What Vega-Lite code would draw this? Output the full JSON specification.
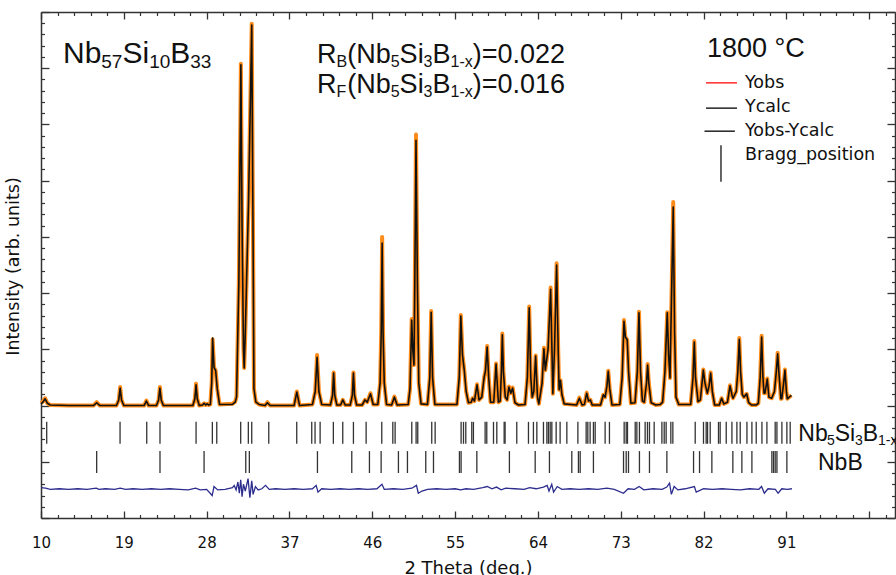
{
"$schema": "https://vega.github.io/schema/vega-lite/v6.json",
"width": 854, "height": 506,
"autosize": {"type": "none"},
"padding": {"left": 41, "top": 12, "right": 1, "bottom": 57},
"background": "white",
"config": {"view": {"stroke": null}},
"datasets": {
"pat": [
{"t":10.0,"c":203,"o":204},{"t":10.2,"c":206,"o":207},{"t":10.45,"c":212,"o":213},{"t":10.7,"c":204,"o":204},{"t":11.0,"c":201,"o":201},{"t":13.0,"c":200,"o":200},{"t":15.7,"c":200,"o":200},{"t":16.05,"c":205,"o":206},{"t":16.4,"c":200,"o":200},
{"t":18.2,"c":200,"o":200},{"t":18.45,"c":210,"o":210},{"t":18.6,"c":231,"o":233},{"t":18.75,"c":210,"o":210},{"t":19.0,"c":200,"o":200},
{"t":21.2,"c":200,"o":200},{"t":21.45,"c":208,"o":209},{"t":21.7,"c":200,"o":200},
{"t":22.55,"c":200,"o":200},{"t":22.78,"c":210,"o":210},{"t":22.92,"c":231,"o":233},{"t":23.06,"c":210,"o":210},{"t":23.3,"c":200,"o":200},
{"t":26.5,"c":200,"o":200},{"t":26.72,"c":212,"o":212},{"t":26.85,"c":237,"o":239},{"t":26.98,"c":212,"o":212},{"t":27.2,"c":200,"o":200},
{"t":27.55,"c":201,"o":201},{"t":27.72,"c":204,"o":204},{"t":27.9,"c":201,"o":201},{"t":28.05,"c":203,"o":203},{"t":28.2,"c":201,"o":201},
{"t":28.4,"c":202,"o":202},{"t":28.55,"c":240,"o":240},{"t":28.65,"c":320,"o":318},{"t":28.8,"c":268,"o":268},{"t":28.98,"c":262,"o":262},{"t":29.15,"c":230,"o":230},{"t":29.4,"c":202,"o":202},
{"t":30.8,"c":202,"o":203},{"t":31.1,"c":206,"o":207},{"t":31.25,"c":215,"o":216},{"t":31.5,"c":420,"o":420},{"t":31.72,"c":806,"o":808},{"t":31.85,"c":520,"o":520},{"t":32.0,"c":300,"o":300},{"t":32.08,"c":267,"o":267},{"t":32.2,"c":330,"o":330},{"t":32.55,"c":560,"o":560},{"t":32.9,"c":877,"o":879},{"t":33.02,"c":560,"o":560},{"t":33.14,"c":230,"o":230},{"t":33.35,"c":206,"o":206},{"t":33.7,"c":202,"o":202},
{"t":34.35,"c":200,"o":200},{"t":34.6,"c":205,"o":206},{"t":34.9,"c":200,"o":200},
{"t":37.5,"c":200,"o":200},{"t":37.8,"c":224,"o":225},{"t":38.1,"c":200,"o":200},
{"t":39.5,"c":202,"o":202},{"t":39.8,"c":225,"o":225},{"t":40.0,"c":286,"o":290},{"t":40.2,"c":225,"o":225},{"t":40.5,"c":202,"o":202},
{"t":41.45,"c":201,"o":201},{"t":41.68,"c":218,"o":218},{"t":41.8,"c":258,"o":259},{"t":41.92,"c":218,"o":218},{"t":42.15,"c":201,"o":201},
{"t":42.55,"c":201,"o":201},{"t":42.8,"c":210,"o":210},{"t":43.05,"c":201,"o":201},
{"t":43.6,"c":201,"o":201},{"t":43.83,"c":218,"o":218},{"t":43.95,"c":258,"o":259},{"t":44.07,"c":218,"o":218},{"t":44.3,"c":201,"o":201},
{"t":44.9,"c":201,"o":201},{"t":45.2,"c":210,"o":210},{"t":45.45,"c":206,"o":206},{"t":45.8,"c":221,"o":222},{"t":46.1,"c":202,"o":202},
{"t":46.6,"c":202,"o":202},{"t":46.85,"c":240,"o":240},{"t":46.97,"c":330,"o":330},{"t":47.07,"c":489,"o":500},{"t":47.17,"c":330,"o":330},{"t":47.3,"c":240,"o":240},{"t":47.55,"c":202,"o":202},
{"t":48.1,"c":201,"o":201},{"t":48.4,"c":215,"o":216},{"t":48.7,"c":201,"o":201},
{"t":49.9,"c":202,"o":202},{"t":50.1,"c":230,"o":230},{"t":50.28,"c":352,"o":354},{"t":50.4,"c":300,"o":300},{"t":50.53,"c":272,"o":272},{"t":50.62,"c":420,"o":420},{"t":50.75,"c":672,"o":682},{"t":50.9,"c":420,"o":420},{"t":51.05,"c":240,"o":240},{"t":51.3,"c":203,"o":203},
{"t":52.0,"c":202,"o":202},{"t":52.25,"c":250,"o":250},{"t":52.4,"c":366,"o":368},{"t":52.55,"c":250,"o":250},{"t":52.8,"c":202,"o":202},
{"t":55.2,"c":202,"o":202},{"t":55.45,"c":250,"o":250},{"t":55.62,"c":359,"o":361},{"t":55.8,"c":290,"o":290},{"t":56.0,"c":262,"o":262},{"t":56.2,"c":225,"o":225},{"t":56.45,"c":205,"o":205},
{"t":56.75,"c":206,"o":206},{"t":56.9,"c":213,"o":213},{"t":57.1,"c":208,"o":208},{"t":57.38,"c":237,"o":238},{"t":57.6,"c":210,"o":210},
{"t":57.9,"c":215,"o":215},{"t":58.15,"c":250,"o":250},{"t":58.3,"c":262,"o":262},{"t":58.48,"c":304,"o":306},{"t":58.65,"c":250,"o":250},{"t":58.85,"c":206,"o":206},
{"t":59.2,"c":206,"o":206},{"t":59.45,"c":274,"o":275},{"t":59.7,"c":206,"o":206},
{"t":59.9,"c":208,"o":208},{"t":60.03,"c":260,"o":260},{"t":60.13,"c":326,"o":328},{"t":60.25,"c":260,"o":260},{"t":60.45,"c":215,"o":215},
{"t":60.65,"c":210,"o":210},{"t":60.85,"c":233,"o":234},{"t":61.05,"c":222,"o":222},{"t":61.25,"c":231,"o":232},{"t":61.5,"c":205,"o":205},{"t":61.9,"c":201,"o":201},
{"t":62.6,"c":202,"o":202},{"t":62.85,"c":250,"o":250},{"t":63.05,"c":374,"o":376},{"t":63.22,"c":250,"o":250},{"t":63.38,"c":215,"o":215},
{"t":63.55,"c":225,"o":225},{"t":63.75,"c":288,"o":289},{"t":63.95,"c":215,"o":215},{"t":64.1,"c":203,"o":203},
{"t":64.45,"c":240,"o":240},{"t":64.65,"c":301,"o":303},{"t":64.8,"c":263,"o":263},
{"t":65.1,"c":300,"o":300},{"t":65.38,"c":407,"o":410},{"t":65.52,"c":300,"o":300},{"t":65.62,"c":221,"o":221},
{"t":65.8,"c":300,"o":300},{"t":66.03,"c":450,"o":453},{"t":66.2,"c":300,"o":300},{"t":66.3,"c":228,"o":228},{"t":66.45,"c":245,"o":245},{"t":66.6,"c":220,"o":220},{"t":66.85,"c":203,"o":203},
{"t":68.2,"c":201,"o":201},{"t":68.5,"c":213,"o":214},{"t":68.8,"c":201,"o":201},
{"t":69.05,"c":202,"o":202},{"t":69.3,"c":222,"o":223},{"t":69.5,"c":208,"o":208},{"t":69.7,"c":210,"o":210},{"t":69.9,"c":201,"o":201},
{"t":70.8,"c":201,"o":201},{"t":71.1,"c":219,"o":219},{"t":71.3,"c":215,"o":215},{"t":71.5,"c":235,"o":235},{"t":71.64,"c":261,"o":262},{"t":71.8,"c":230,"o":230},{"t":72.05,"c":201,"o":201},
{"t":72.9,"c":202,"o":202},{"t":73.15,"c":250,"o":250},{"t":73.35,"c":350,"o":352},{"t":73.5,"c":322,"o":322},{"t":73.7,"c":317,"o":317},{"t":73.85,"c":260,"o":260},{"t":74.1,"c":204,"o":204},
{"t":74.55,"c":205,"o":205},{"t":74.8,"c":260,"o":260},{"t":74.98,"c":365,"o":367},{"t":75.15,"c":260,"o":260},{"t":75.35,"c":208,"o":208},
{"t":75.55,"c":206,"o":206},{"t":75.8,"c":240,"o":240},{"t":75.92,"c":272,"o":274},{"t":76.05,"c":240,"o":240},{"t":76.3,"c":205,"o":205},{"t":76.8,"c":201,"o":201},{"t":77.3,"c":202,"o":202},
{"t":77.55,"c":206,"o":206},{"t":77.8,"c":260,"o":260},{"t":78.05,"c":365,"o":366},{"t":78.2,"c":290,"o":290},{"t":78.35,"c":249,"o":249},{"t":78.5,"c":380,"o":380},{"t":78.7,"c":553,"o":562},{"t":78.85,"c":330,"o":330},{"t":79.0,"c":215,"o":215},{"t":79.3,"c":202,"o":202},
{"t":80.6,"c":202,"o":202},{"t":80.85,"c":250,"o":250},{"t":80.99,"c":313,"o":315},{"t":81.12,"c":250,"o":250},{"t":81.4,"c":207,"o":207},
{"t":81.65,"c":210,"o":210},{"t":81.97,"c":263,"o":264},{"t":82.15,"c":240,"o":240},{"t":82.4,"c":222,"o":222},{"t":82.6,"c":235,"o":235},{"t":82.77,"c":258,"o":259},{"t":82.95,"c":225,"o":225},{"t":83.2,"c":201,"o":201},
{"t":83.7,"c":201,"o":201},{"t":83.96,"c":213,"o":213},{"t":84.2,"c":203,"o":203},
{"t":84.6,"c":206,"o":206},{"t":84.87,"c":235,"o":236},{"t":85.1,"c":218,"o":218},{"t":85.2,"c":213,"o":213},
{"t":85.55,"c":225,"o":225},{"t":85.72,"c":260,"o":260},{"t":85.88,"c":318,"o":320},{"t":86.02,"c":260,"o":260},{"t":86.2,"c":220,"o":220},{"t":86.38,"c":215,"o":215},
{"t":86.68,"c":221,"o":221},{"t":86.9,"c":205,"o":205},{"t":87.2,"c":201,"o":201},{"t":87.7,"c":201,"o":201},
{"t":87.95,"c":204,"o":204},{"t":88.15,"c":250,"o":250},{"t":88.31,"c":322,"o":324},{"t":88.45,"c":250,"o":250},{"t":88.57,"c":222,"o":222},{"t":88.67,"c":222,"o":222},
{"t":88.92,"c":247,"o":248},{"t":89.1,"c":215,"o":215},{"t":89.4,"c":213,"o":213},
{"t":89.7,"c":225,"o":225},{"t":89.9,"c":260,"o":260},{"t":90.05,"c":292,"o":294},{"t":90.2,"c":255,"o":255},{"t":90.4,"c":212,"o":212},{"t":90.49,"c":212,"o":212},
{"t":90.7,"c":240,"o":240},{"t":90.84,"c":263,"o":264},{"t":91.0,"c":225,"o":225},{"t":91.1,"c":212,"o":212},{"t":91.3,"c":215,"o":215},{"t":91.55,"c":218,"o":218}
],
"diff": [
{"t":10.0,"d":54},{"t":10.5,"d":53},{"t":11,"d":51},{"t":12,"d":52},{"t":13,"d":51},{"t":14,"d":52},{"t":15,"d":51},{"t":16,"d":53},{"t":16.3,"d":51},{"t":17,"d":52},{"t":18,"d":51},{"t":18.6,"d":53},{"t":19.2,"d":51},{"t":20,"d":52},{"t":21,"d":51},{"t":22,"d":52},{"t":23,"d":51},{"t":24,"d":52},{"t":25,"d":51},{"t":26,"d":50},{"t":26.8,"d":53},{"t":27.3,"d":50},{"t":28.0,"d":51},{"t":28.6,"d":40},{"t":28.8,"d":56},{"t":29.2,"d":50},{"t":30,"d":51},{"t":30.8,"d":54},{"t":31.0,"d":58},{"t":31.2,"d":50},{"t":31.4,"d":64},{"t":31.55,"d":44},{"t":31.7,"d":68},{"t":31.85,"d":38},{"t":32.0,"d":60},{"t":32.2,"d":48},{"t":32.5,"d":70},{"t":32.7,"d":36},{"t":32.9,"d":66},{"t":33.05,"d":42},{"t":33.3,"d":56},{"t":33.6,"d":50},{"t":34.0,"d":52},{"t":34.4,"d":58},{"t":34.8,"d":51},{"t":35.5,"d":52},{"t":36.5,"d":51},{"t":37.5,"d":52},{"t":38.5,"d":51},{"t":39.5,"d":52},{"t":39.9,"d":58},{"t":40.1,"d":46},{"t":40.5,"d":52},{"t":41.5,"d":51},{"t":42.5,"d":52},{"t":43.5,"d":51},{"t":44.5,"d":52},{"t":45.5,"d":51},{"t":46.5,"d":52},{"t":47.05,"d":60},{"t":47.3,"d":51},{"t":48.3,"d":52},{"t":49.3,"d":51},{"t":50.3,"d":53},{"t":50.8,"d":58},{"t":51.0,"d":44},{"t":51.4,"d":48},{"t":52.0,"d":51},{"t":53,"d":52},{"t":54,"d":51},{"t":55,"d":52},{"t":55.6,"d":50},{"t":56.2,"d":52},{"t":57,"d":51},{"t":58.0,"d":54},{"t":58.5,"d":56},{"t":59.0,"d":52},{"t":59.5,"d":55},{"t":60.0,"d":50},{"t":60.5,"d":53},{"t":61.5,"d":52},{"t":62.5,"d":51},{"t":63.1,"d":54},{"t":63.8,"d":52},{"t":64.6,"d":55},{"t":65.0,"d":58},{"t":65.2,"d":48},{"t":65.5,"d":60},{"t":65.7,"d":46},{"t":66.1,"d":56},{"t":66.6,"d":51},{"t":67.5,"d":52},{"t":68.5,"d":51},{"t":69.5,"d":52},{"t":70.5,"d":51},{"t":71.5,"d":53},{"t":72.3,"d":51},{"t":73.3,"d":44},{"t":73.8,"d":52},{"t":74.5,"d":51},{"t":75.0,"d":56},{"t":75.5,"d":50},{"t":76.5,"d":52},{"t":77.5,"d":51},{"t":78.0,"d":55},{"t":78.3,"d":62},{"t":78.5,"d":42},{"t":78.8,"d":56},{"t":79.2,"d":50},{"t":80.0,"d":52},{"t":81.0,"d":56},{"t":81.2,"d":46},{"t":82.0,"d":52},{"t":83.0,"d":51},{"t":84.0,"d":52},{"t":85.0,"d":51},{"t":86.0,"d":50},{"t":87.0,"d":52},{"t":88.0,"d":51},{"t":88.3,"d":56},{"t":88.6,"d":44},{"t":89.0,"d":52},{"t":89.8,"d":51},{"t":90.1,"d":44},{"t":90.5,"d":52},{"t":91.1,"d":51},{"t":91.6,"d":52}
],
"bragg": [
{"t":10.62,"p":1},{"t":18.59,"p":1},{"t":21.49,"p":1},{"t":22.93,"p":1},{"t":26.85,"p":1},{"t":28.62,"p":1},{"t":29.10,"p":1},{"t":31.70,"p":1},{"t":32.53,"p":1},{"t":32.90,"p":1},{"t":34.75,"p":1},{"t":37.79,"p":1},{"t":39.42,"p":1},{"t":39.78,"p":1},{"t":40.33,"p":1},{"t":41.77,"p":1},{"t":42.79,"p":1},{"t":43.95,"p":1},{"t":45.33,"p":1},{"t":47.03,"p":1},{"t":48.23,"p":1},{"t":48.48,"p":1},{"t":50.29,"p":1},{"t":50.76,"p":1},{"t":50.94,"p":1},{"t":52.46,"p":1},{"t":52.83,"p":1},{"t":55.65,"p":1},{"t":55.91,"p":1},{"t":56.16,"p":1},{"t":56.81,"p":1},{"t":56.99,"p":1},{"t":58.26,"p":1},{"t":58.44,"p":1},{"t":59.17,"p":1},{"t":59.53,"p":1},{"t":60.33,"p":1},{"t":60.43,"p":1},{"t":61.70,"p":1},{"t":62.97,"p":1},{"t":63.51,"p":1},{"t":63.88,"p":1},{"t":64.60,"p":1},{"t":64.97,"p":1},{"t":65.14,"p":1},{"t":65.33,"p":1},{"t":65.51,"p":1},{"t":65.98,"p":1},{"t":66.41,"p":1},{"t":67.14,"p":1},{"t":68.34,"p":1},{"t":69.24,"p":1},{"t":69.42,"p":1},{"t":69.67,"p":1},{"t":70.03,"p":1},{"t":70.22,"p":1},{"t":71.30,"p":1},{"t":71.77,"p":1},{"t":73.37,"p":1},{"t":73.59,"p":1},{"t":73.73,"p":1},{"t":74.57,"p":1},{"t":74.75,"p":1},{"t":75.03,"p":1},{"t":75.65,"p":1},{"t":75.90,"p":1},{"t":76.12,"p":1},{"t":76.63,"p":1},{"t":77.47,"p":1},{"t":77.72,"p":1},{"t":77.93,"p":1},{"t":78.44,"p":1},{"t":78.66,"p":1},{"t":81.09,"p":1},{"t":81.99,"p":1},{"t":82.28,"p":1},{"t":82.43,"p":1},{"t":82.72,"p":1},{"t":83.62,"p":1},{"t":83.80,"p":1},{"t":84.46,"p":1},{"t":85.08,"p":1},{"t":85.62,"p":1},{"t":85.98,"p":1},{"t":86.71,"p":1},{"t":87.25,"p":1},{"t":87.72,"p":1},{"t":88.34,"p":1},{"t":88.88,"p":1},{"t":89.78,"p":1},{"t":89.97,"p":1},{"t":90.51,"p":1},{"t":91.05,"p":1},{"t":91.41,"p":1},
{"t":16.05,"p":2},{"t":22.93,"p":2},{"t":27.72,"p":2},{"t":32.25,"p":2},{"t":32.64,"p":2},{"t":40.04,"p":2},{"t":43.77,"p":2},{"t":45.69,"p":2},{"t":46.96,"p":2},{"t":48.84,"p":2},{"t":49.82,"p":2},{"t":51.81,"p":2},{"t":52.65,"p":2},{"t":55.47,"p":2},{"t":55.65,"p":2},{"t":57.36,"p":2},{"t":60.90,"p":2},{"t":63.70,"p":2},{"t":65.25,"p":2},{"t":67.68,"p":2},{"t":68.40,"p":2},{"t":68.59,"p":2},{"t":70.03,"p":2},{"t":73.30,"p":2},{"t":73.59,"p":2},{"t":73.84,"p":2},{"t":75.03,"p":2},{"t":76.12,"p":2},{"t":78.01,"p":2},{"t":80.91,"p":2},{"t":81.56,"p":2},{"t":82.90,"p":2},{"t":85.18,"p":2},{"t":86.16,"p":2},{"t":87.25,"p":2},{"t":89.42,"p":2},{"t":89.60,"p":2},{"t":89.78,"p":2},{"t":89.97,"p":2},{"t":91.05,"p":2}
]
},
"resolve": {"axis": {"x": "independent", "y": "independent"}},
"layer": [
{"data": {"name": "pat"},
 "mark": {"type": "line", "color": "#ff8c1a", "strokeWidth": 4, "strokeJoin": "round"},
 "encoding": {
  "x": {"field": "t", "type": "quantitative", "scale": {"domain": [10, 102.8], "nice": false, "zero": false},
   "axis": {"orient": "bottom", "values": [10,19,28,37,46,55,64,73,82,91,100], "labelExpr": "datum.value < 95 ? datum.label : ''", "tickSize": -7, "tickWidth": 1.3, "tickColor": "#333", "domainColor": "#333", "domainWidth": 1.5, "labelPadding": 24, "labelFont": "DejaVu Sans", "labelFontSize": 15, "labelColor": "#111", "labelFlush": false, "labelOverlap": false, "grid": false, "title": "2 Theta (deg.)", "titleFont": "DejaVu Sans", "titleFontSize": 18, "titleFontWeight": "normal", "titleColor": "#111", "titleY": 41, "titleBaseline": "top"}},
  "y": {"field": "o", "type": "quantitative", "scale": {"domain": [0, 900], "nice": false, "zero": false},
   "axis": {"orient": "left", "values": [0,100,200,300,400,500,600,700,800,900], "labels": false, "tickSize": -8, "tickWidth": 1.3, "tickColor": "#333", "domainColor": "#333", "domainWidth": 1.5, "grid": false, "title": "Intensity (arb. units)", "titleFont": "DejaVu Sans", "titleFontSize": 17.5, "titleFontWeight": "normal", "titleColor": "#111", "titleX": -19, "titleY": 254}}
 }},
{"data": {"name": "pat"},
 "mark": {"type": "line", "color": "#111111", "strokeWidth": 1.6, "strokeJoin": "round"},
 "encoding": {
  "x": {"field": "t", "type": "quantitative",
   "axis": {"orient": "bottom", "values": [11.8,13.6,15.4,17.2,20.8,22.6,24.4,26.2,29.8,31.6,33.4,35.2,38.8,40.6,42.4,44.2,47.8,49.6,51.4,53.2,56.8,58.6,60.4,62.2,65.8,67.6,69.4,71.2,74.8,76.6,78.4,80.2,83.8,85.6,87.4,89.2,92.8,94.6,96.4,98.2,101.8], "labels": false, "domain": false, "tickSize": -3.5, "tickWidth": 1.2, "tickColor": "#333", "grid": false, "title": null}},
  "y": {"field": "c", "type": "quantitative",
   "axis": {"orient": "left", "values": [20,40,60,80,120,140,160,180,220,240,260,280,320,340,360,380,420,440,460,480,520,540,560,580,620,640,660,680,720,740,760,780,820,840,860,880], "labels": false, "domain": false, "tickSize": -3.5, "tickWidth": 1.2, "tickColor": "#333", "grid": false, "title": null}}
 }},
{"data": {"name": "diff"},
 "mark": {"type": "line", "color": "#2c2c8e", "strokeWidth": 1.3},
 "encoding": {
  "x": {"field": "t", "type": "quantitative",
   "axis": {"orient": "top", "values": [10,19,28,37,46,55,64,73,82,91,100], "labels": false, "tickSize": -7, "tickWidth": 1.3, "tickColor": "#333", "domainColor": "#333", "domainWidth": 1.5, "grid": false, "title": null}},
  "y": {"field": "d", "type": "quantitative",
   "axis": {"orient": "right", "values": [0,100,200,300,400,500,600,700,800,900], "labels": false, "tickSize": -8, "tickWidth": 1.3, "tickColor": "#333", "domainColor": "#333", "domainWidth": 1.5, "grid": false, "title": null}}
 }},
{"data": {"name": "bragg"},
 "transform": [{"filter": "datum.p == 1"}],
 "mark": {"type": "rule", "color": "#333333", "strokeWidth": 1.3},
 "encoding": {
  "x": {"field": "t", "type": "quantitative",
   "axis": {"orient": "top", "values": [11.8,13.6,15.4,17.2,20.8,22.6,24.4,26.2,29.8,31.6,33.4,35.2,38.8,40.6,42.4,44.2,47.8,49.6,51.4,53.2,56.8,58.6,60.4,62.2,65.8,67.6,69.4,71.2,74.8,76.6,78.4,80.2,83.8,85.6,87.4,89.2,92.8,94.6,96.4,98.2,101.8], "labels": false, "domain": false, "tickSize": -3.5, "tickWidth": 1.2, "tickColor": "#333", "grid": false, "title": null}},
  "y": {"datum": 171, "type": "quantitative",
   "axis": {"orient": "right", "values": [20,40,60,80,120,140,160,180,220,240,260,280,320,340,360,380,420,440,460,480,520,540,560,580,620,640,660,680,720,740,760,780,820,840,860,880], "labels": false, "domain": false, "tickSize": -3.5, "tickWidth": 1.2, "tickColor": "#333", "grid": false, "title": null}},
  "y2": {"datum": 132}
 }},
{"data": {"name": "bragg"},
 "transform": [{"filter": "datum.p == 2"}],
 "mark": {"type": "rule", "color": "#333333", "strokeWidth": 1.3},
 "encoding": {
  "x": {"field": "t", "type": "quantitative", "axis": null},
  "y": {"datum": 119, "type": "quantitative", "axis": null},
  "y2": {"datum": 80}
 }},
{"data": {"values": [
  {"x": 82.26, "x2": 85.63, "y": 774, "k": "Yobs"},
  {"x": 82.26, "x2": 85.63, "y": 729, "k": "Ycalc"},
  {"x": 82.1, "x2": 85.4, "y": 688, "k": "Yobs-Ycalc"}]},
 "mark": {"type": "rule", "strokeWidth": 1.5},
 "encoding": {
  "x": {"field": "x", "type": "quantitative", "axis": null},
  "x2": {"field": "x2"},
  "y": {"field": "y", "type": "quantitative", "axis": null},
  "color": {"field": "k", "type": "nominal", "scale": {"domain": ["Yobs", "Ycalc", "Yobs-Ycalc"], "range": ["#ff2a2a", "#222222", "#222222"]}, "legend": null}
 }},
{"data": {"values": [{"x": 83.89, "y": 663, "y2": 598}]},
 "mark": {"type": "rule", "strokeWidth": 1.5, "color": "#333333"},
 "encoding": {
  "x": {"field": "x", "type": "quantitative", "axis": null},
  "y": {"field": "y", "type": "quantitative", "axis": null},
  "y2": {"field": "y2"}
 }},
{"data": {"values": [
  {"x": 86.5, "y": 765, "s": "Yobs"},
  {"x": 86.5, "y": 722, "s": "Ycalc"},
  {"x": 86.5, "y": 680, "s": "Yobs-Ycalc"},
  {"x": 86.5, "y": 637, "s": "Bragg_position"}]},
 "mark": {"type": "text", "align": "left", "baseline": "alphabetic", "font": "DejaVu Sans", "fontSize": 17.5, "color": "#111111"},
 "encoding": {
  "x": {"field": "x", "type": "quantitative", "axis": null},
  "y": {"field": "y", "type": "quantitative", "axis": null},
  "text": {"field": "s"}
 }},
{"data": {"values": [
  {"x": 12.39, "y": 809, "s": "Nb"},
  {"x": 18.85, "y": 809, "s": "Si"},
  {"x": 24.04, "y": 809, "s": "B"}]},
 "mark": {"type": "text", "align": "left", "baseline": "alphabetic", "font": "Liberation Sans", "fontSize": 30, "color": "#111111"},
 "encoding": {
  "x": {"field": "x", "type": "quantitative", "axis": null},
  "y": {"field": "y", "type": "quantitative", "axis": null},
  "text": {"field": "s"}
 }},
{"data": {"values": [
  {"x": 16.55, "y": 800, "s": "57"},
  {"x": 21.75, "y": 800, "s": "10"},
  {"x": 26.21, "y": 800, "s": "33"}]},
 "mark": {"type": "text", "align": "left", "baseline": "alphabetic", "font": "Liberation Sans", "fontSize": 19, "color": "#111111"},
 "encoding": {
  "x": {"field": "x", "type": "quantitative", "axis": null},
  "y": {"field": "y", "type": "quantitative", "axis": null},
  "text": {"field": "s"}
 }},
{"data": {"values": [
  {"x": 39.99, "y": 809, "s": "R"},
  {"x": 43.27, "y": 809, "s": "(Nb"},
  {"x": 48.97, "y": 809, "s": "Si"},
  {"x": 52.54, "y": 809, "s": "B"},
  {"x": 56.91, "y": 809, "s": ")=0.022"},
  {"x": 39.99, "y": 756, "s": "R"},
  {"x": 43.27, "y": 756, "s": "(Nb"},
  {"x": 48.97, "y": 756, "s": "Si"},
  {"x": 52.54, "y": 756, "s": "B"},
  {"x": 56.91, "y": 756, "s": ")=0.016"},
  {"x": 82.37, "y": 820, "s": "1800 °C"}]},
 "mark": {"type": "text", "align": "left", "baseline": "alphabetic", "font": "Liberation Sans", "fontSize": 27, "color": "#111111"},
 "encoding": {
  "x": {"field": "x", "type": "quantitative", "axis": null},
  "y": {"field": "y", "type": "quantitative", "axis": null},
  "text": {"field": "s"}
 }},
{"data": {"values": [
  {"x": 42.11, "y": 802, "s": "B"},
  {"x": 48.0, "y": 802, "s": "5"},
  {"x": 51.57, "y": 802, "s": "3"},
  {"x": 54.5, "y": 802, "s": "1-x"},
  {"x": 42.11, "y": 749, "s": "F"},
  {"x": 48.0, "y": 749, "s": "5"},
  {"x": 51.57, "y": 749, "s": "3"},
  {"x": 54.5, "y": 749, "s": "1-x"}]},
 "mark": {"type": "text", "align": "left", "baseline": "alphabetic", "font": "Liberation Sans", "fontSize": 16, "color": "#111111"},
 "encoding": {
  "x": {"field": "x", "type": "quantitative", "axis": null},
  "y": {"field": "y", "type": "quantitative", "axis": null},
  "text": {"field": "s"}
 }},
{"data": {"values": [
  {"x": 92.29, "y": 137, "s": "Nb"},
  {"x": 96.25, "y": 137, "s": "Si"},
  {"x": 99.3, "y": 137, "s": "B"},
  {"x": 94.43, "y": 85, "s": "NbB"}]},
 "mark": {"type": "text", "align": "left", "baseline": "alphabetic", "font": "Liberation Sans", "fontSize": 23, "color": "#111111"},
 "encoding": {
  "x": {"field": "x", "type": "quantitative", "axis": null},
  "y": {"field": "y", "type": "quantitative", "axis": null},
  "text": {"field": "s"}
 }},
{"data": {"values": [
  {"x": 95.4, "y": 130, "s": "5"},
  {"x": 98.45, "y": 130, "s": "3"},
  {"x": 100.95, "y": 130, "s": "1-x"}]},
 "mark": {"type": "text", "align": "left", "baseline": "alphabetic", "font": "Liberation Sans", "fontSize": 14, "color": "#111111"},
 "encoding": {
  "x": {"field": "x", "type": "quantitative", "axis": null},
  "y": {"field": "y", "type": "quantitative", "axis": null},
  "text": {"field": "s"}
 }}
]
}
